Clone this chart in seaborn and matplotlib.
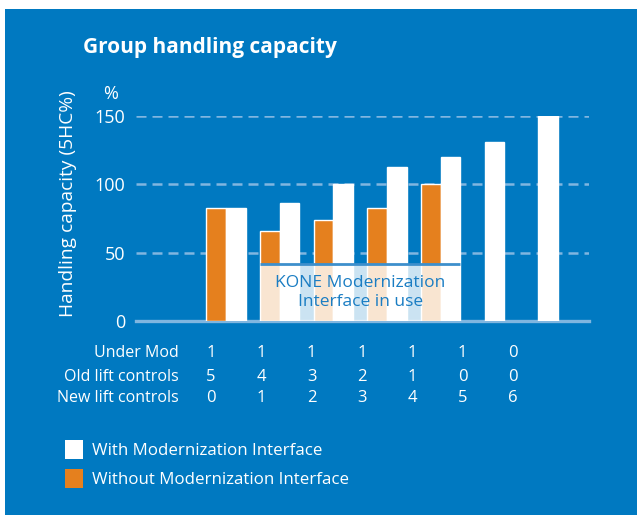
import numpy as np
import pandas as pd
import seaborn as sns
import matplotlib.pyplot as plt
from matplotlib.patches import Rectangle, Patch

# data
groups = ["g1", "g2", "g3", "g4", "g5", "g6", "g7"]
with_mi = [83, 86, 100, 113, 120, 131, 150]
without_mi = [83, 66, 74, 83, 100, np.nan, np.nan]
under_mod = [1, 1, 1, 1, 1, 1, 0]
old_lift = [5, 4, 3, 2, 1, 0, 0]
new_lift = [0, 1, 2, 3, 4, 5, 6]
row_names = ["Under Mod", "Old lift controls", "New lift controls"]
series_names = ["Without Modernization Interface", "With Modernization Interface"]

BLUE = "#0079c1"
ORANGE = "#e5801e"
LIGHT = "#80b6e0"

df = pd.DataFrame({
    "group": groups * 2,
    "value": list(without_mi) + list(with_mi),
    "series": [series_names[0]] * 7 + [series_names[1]] * 7,
})

sns.set_style("white")
plt.rcParams["font.family"] = ["Open Sans", "DejaVu Sans"]

W, H = 637, 515
fig = plt.figure(figsize=(W / 100, H / 100), dpi=100, facecolor="white")
fig.patches.append(Rectangle((5 / W, 0), 1, 1 - 9 / H, transform=fig.transFigure,
                             facecolor=BLUE, edgecolor="none", zorder=-10))

ax = fig.add_axes([136 / W, 1 - 321 / H, (589 - 136) / W, (321 - 116) / H])
ax.set_facecolor("none")

bw = 0.73
sns.barplot(data=df, x="group", y="value", hue="series", hue_order=series_names,
            palette=[ORANGE, "white"], width=bw, dodge=True, legend=False,
            saturation=1, ax=ax, zorder=3)

# centre the lone white bars where there is no orange partner
for i, v in enumerate(without_mi):
    if np.isnan(v):
        bar = ax.containers[1][i]
        bar.set_x(i - bar.get_width() / 2)

ax.set_xlim(-1.676, 6.76)
ax.set_ylim(0, 150)
ax.set_yticks([0, 50, 100, 150])
ax.set_xticks([])
ax.set_xlabel("")
ax.set_ylabel("")
for y in [50, 100, 150]:
    ax.axhline(y, color=LIGHT, lw=1.8, dashes=(4, 2.4), zorder=1)
for s in ["top", "right", "left"]:
    ax.spines[s].set_visible(False)
ax.spines["bottom"].set_color(LIGHT)
ax.spines["bottom"].set_linewidth(2.4)
ax.spines["bottom"].set_zorder(2)
ax.tick_params(axis="y", length=0, pad=7.5, labelsize=13, labelcolor="white")

# KONE box over groups 2-5
x0, x1 = 1 - bw / 2, 4 + bw / 2
ax.add_patch(Rectangle((x0, 0), x1 - x0, 42, facecolor="white", alpha=0.8,
                       edgecolor="none", zorder=4))
ax.plot([x0, x1], [42, 42], color="#3d8fcc", lw=2, zorder=5, solid_capstyle="butt")
ax.text((x0 + x1) / 2, 21, "KONE Modernization\nInterface in use", ha="center",
        va="center", color="#1a7dc3", fontsize=12.5, linespacing=1.25, zorder=6)

# titles
fig.text(83 / W, 1 - 48 / H, "Group handling capacity", color="white",
         fontsize=15, fontweight="bold", va="center", ha="left")
fig.text(111 / W, 1 - 94 / H, "%", color="white", fontsize=13, ha="center", va="center")
fig.text(68 / W, 1 - 204 / H, "Handling capacity (5HC%)", color="white", fontsize=13.8,
         rotation=90, ha="center", va="center")

# table under the chart
rows = [under_mod, old_lift, new_lift]
row_y = [353, 377, 398]
for name, vals, yp in zip(row_names, rows, row_y):
    fig.text(179 / W, 1 - yp / H, name, color="white", fontsize=11.5,
             ha="right", va="center")
    for i, v in enumerate(vals):
        fig.text((211 + 50.3 * i) / W, 1 - yp / H, str(v), color="white",
                 fontsize=12, ha="center", va="center")

handles = [Patch(facecolor="white", edgecolor="none"),
           Patch(facecolor=ORANGE, edgecolor="none")]
fig.legend(handles, [series_names[1], series_names[0]], loc="upper left",
           bbox_to_anchor=(50 / W, 1 - 425 / H), frameon=False, fontsize=12.2,
           labelcolor="white", handlelength=1.05, handleheight=1.35,
           handletextpad=0.5, labelspacing=0.55)

fig.savefig("out.png", dpi=100, facecolor="white")
